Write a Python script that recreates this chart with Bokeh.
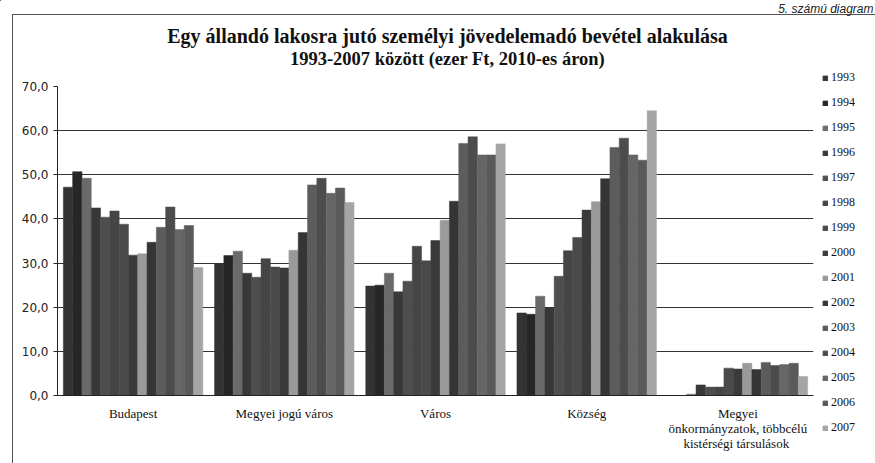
from bokeh.plotting import figure
from bokeh.models import (FactorRange, Range1d, ColumnDataSource, Legend, LegendItem, Label,
                          FixedTicker, CustomJSTickFormatter, InlineStyleSheet)
from bokeh.transform import dodge
from bokeh.embed import file_html
from bokeh.resources import INLINE

# ---------------- data ----------------
categories = ["Budapest", "Megyei jogú város", "Város", "Község",
              "Megyei\nönkormányzatok, többcélú\nkistérségi  társulások"]
years = [str(y) for y in range(1993, 2008)]

budapest = [47.2, 50.7, 49.2, 42.5, 40.4, 41.8, 38.8, 31.8, 32.1, 34.7, 38.1, 42.7, 37.6, 38.5, 29.0]
megyei_jogu = [29.8, 31.7, 32.7, 27.7, 26.8, 31.0, 29.1, 28.9, 32.9, 36.9, 47.7, 49.2, 45.8, 47.0, 43.7]
varos = [24.8, 25.0, 27.7, 23.5, 25.9, 33.8, 30.5, 35.1, 39.7, 44.0, 57.1, 58.6, 54.5, 54.5, 57.0]
kozseg = [18.7, 18.4, 22.5, 19.8, 27.0, 32.8, 35.8, 42.0, 43.9, 49.1, 56.2, 58.3, 54.5, 53.3, 64.5]
megyei_onk = [0.0, 0.0, 0.3, 2.4, 1.9, 1.9, 6.2, 6.0, 7.3, 5.9, 7.5, 6.8, 7.0, 7.3, 4.3]

y_ticks = [0, 10, 20, 30, 40, 50, 60, 70]

colors = ["#333333", "#262626", "#6a6a6a", "#383838", "#4e4e4e", "#454545", "#4a4a4a",
          "#3a3a3a", "#9a9a9a", "#353535", "#5c5c5c", "#4c4c4c", "#666666", "#5a5a5a", "#a5a5a5"]

title_line1 = "Egy állandó lakosra jutó személyi jövedelemadó bevétel alakulása"
title_line2 = "1993-2007 között (ezer Ft, 2010-es áron)"
corner = "5. számú diagram"

# ---------------- source ----------------
series = [budapest, megyei_jogu, varos, kozseg, megyei_onk]
data = {"cat": categories}
for i, yr in enumerate(years):
    data["y" + yr] = [s[i] for s in series]
src = ColumnDataSource(data)

W, H = 875, 463
p = figure(width=W, height=H, x_range=FactorRange(*categories, range_padding=0),
           y_range=(0, 70), output_backend="svg", toolbar_location=None,
           min_border_left=57, min_border_right=62, min_border_top=86, min_border_bottom=68)
p.background_fill_color = "white"
p.border_fill_color = "white"
p.outline_line_color = None

w = 0.0615
for i, yr in enumerate(years):
    p.vbar(x=dodge("cat", (i - 7) * w, range=p.x_range), top="y" + yr, width=w,
           source=src, fill_color=colors[i], line_color=colors[i], line_width=0.5)

# axes
p.yaxis.ticker = FixedTicker(ticks=y_ticks)
p.yaxis.formatter = CustomJSTickFormatter(code="return tick.toFixed(1).replace('.', ',');")
p.yaxis.major_label_text_font = "DejaVu Sans"
p.yaxis.major_label_text_font_size = "12px"
p.yaxis.major_label_text_color = "#222222"
p.yaxis.major_tick_out = 4
p.yaxis.major_tick_in = 0
p.yaxis.minor_tick_line_color = None
p.yaxis.axis_line_color = "#222222"
p.yaxis.major_tick_line_color = "#222222"
p.yaxis.major_label_standoff = 5

p.xaxis.major_tick_out = 0
p.xaxis.major_tick_in = 0
p.xaxis.major_label_text_font = "Liberation Serif"
p.xaxis.major_label_text_font_size = "13px"
p.xaxis.major_label_text_color = "#111111"
p.xaxis.major_label_text_line_height = 1.0
p.xaxis.major_label_standoff = 10
p.xaxis.axis_line_color = "#222222"

p.xgrid.grid_line_color = None
p.ygrid.grid_line_color = "#333333"
p.ygrid.grid_line_width = 1

# outer box (left and top edges of the framed chart)
css = (":host { position: relative; } "
       ":host::after { content: ''; position: absolute; left: 12px; top: 14px; right: 0; bottom: 0; "
       "border-left: 1px solid #555; border-top: 1px solid #555; pointer-events: none; }")
p.stylesheets = [InlineStyleSheet(css=css)]

# ---------------- transparent overlay for titles and legend (pixel coordinates) ----------------
ov = figure(width=W, height=H, output_backend="svg", toolbar_location=None,
            x_range=Range1d(0, W), y_range=Range1d(H, 0), x_axis_type=None, y_axis_type=None,
            min_border=0, min_border_left=0, min_border_right=0,
            min_border_top=0, min_border_bottom=0)
ov.outline_line_color = None
ov.background_fill_color = None
ov.border_fill_color = None
ov.grid.grid_line_color = None
ov.styles = {"position": "absolute", "left": "0px", "top": "0px"}

ov.add_layout(Label(x=447, y=35, text=title_line1, text_align="center", text_baseline="middle",
                    text_font="Liberation Serif", text_font_style="bold",
                    text_font_size="20px", text_color="#111111"))
ov.add_layout(Label(x=447, y=58, text=title_line2, text_align="center", text_baseline="middle",
                    text_font="Liberation Serif", text_font_style="bold",
                    text_font_size="18.5px", text_color="#111111"))
ov.add_layout(Label(x=873, y=1, text=corner, text_align="right", text_baseline="top",
                    text_font="Liberation Sans", text_font_style="italic",
                    text_font_size="12px", text_color="#222222"))

leg_renderers = []
for i, yr in enumerate(years):
    r = ov.vbar(x=[-100], top=[-100], width=1, fill_color=colors[i], line_color=colors[i])
    leg_renderers.append(r)
items = [LegendItem(label=yr, renderers=[r]) for yr, r in zip(years, leg_renderers)]
legend = Legend(items=items, location="top_right", glyph_width=6, glyph_height=6,
                label_height=15, spacing=10, padding=0, margin=20,
                border_line_color=None, background_fill_alpha=0,
                label_text_font="Liberation Serif", label_text_font_size="12px",
                label_standoff=3, label_text_color="#111111",
                title=" ", title_text_font_size="12px", title_standoff=36)
ov.add_layout(legend)

open("out.html", "w").write(file_html([p, ov], INLINE))
